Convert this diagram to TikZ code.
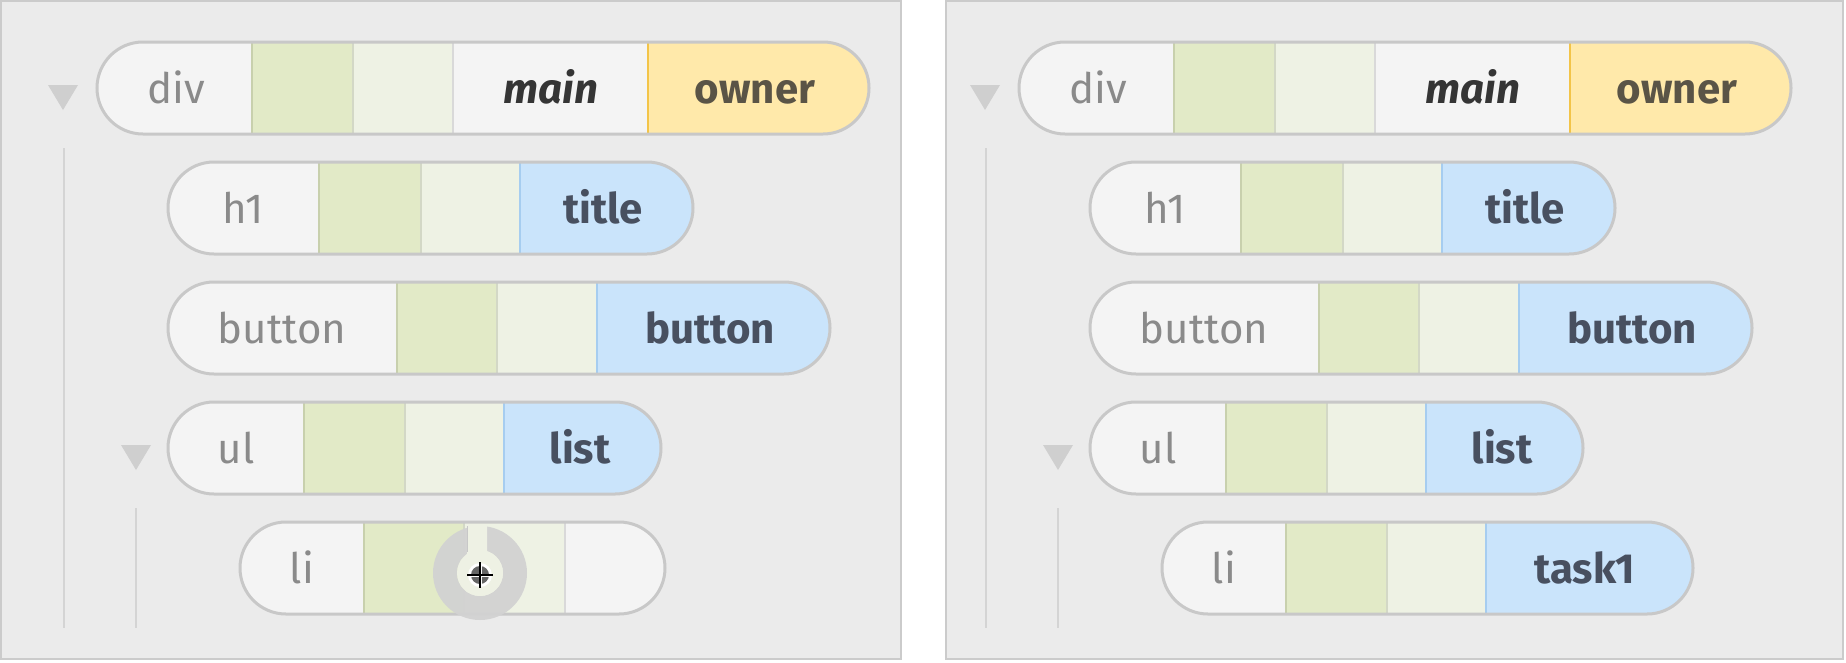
\documentclass[tikz,border=0pt]{standalone}
\usepackage{fontspec}
\setmainfont{Fira Sans}
\definecolor{panelc}{HTML}{EBEBEB}
\definecolor{borderc}{HTML}{CBCBCB}
\definecolor{rimc}{HTML}{C8C8C8}
\definecolor{guidec}{HTML}{D4D4D4}
\definecolor{foldc}{HTML}{CFCFCF}
\definecolor{tagfill}{HTML}{F4F4F4}
\definecolor{greenfill}{HTML}{E2EAC7}
\definecolor{lightfill}{HTML}{EEF2E4}
\definecolor{ownerfill}{HTML}{FFE9AA}
\definecolor{bluefill}{HTML}{CAE4FB}
\definecolor{sepg}{HTML}{C8D0AD}
\definecolor{sepl}{HTML}{D3D8C6}
\definecolor{sepw}{HTML}{D9D9D9}
\definecolor{sepy}{HTML}{F3C448}
\definecolor{sepb}{HTML}{A6CDF0}
\definecolor{tagc}{HTML}{8A8A8A}
\definecolor{namec}{HTML}{485060}
\definecolor{ownerc}{HTML}{5A5446}
\definecolor{mainc}{HTML}{353535}
\definecolor{ringc}{HTML}{D2D2D2}
\definecolor{holec}{HTML}{EEF1E4}
% one pill: #1 row y, #2 left x, #3 right x, #4 sections xa/xb/fill/rule
\newcommand\pillrow[4]{%
  \begin{scope}
    \clip[rounded corners=46pt] (#2,#1-46) rectangle (#3,#1+46);
    \foreach \xa/\xb/\col/\rul in {#4}{
      \fill[\col] (\xa,#1-46) rectangle (\xb,#1+46);
      \draw[\rul,line width=2.5pt] (\xa,#1-46) -- (\xa,#1+46);
    }
  \end{scope}
  \draw[pillrim] (#2,#1-46) rectangle (#3,#1+46);
}
\begin{document}
\begin{tikzpicture}[x=1pt,y=-1pt,
    pillrim/.style={draw=rimc,line width=3pt,rounded corners=46pt},
    guide/.style={draw=guidec,line width=2.5pt},
    tagtext/.style={anchor=base,text=tagc,font=\fontsize{42}{48}\selectfont},
    nametext/.style={anchor=base,text=namec,font=\fontsize{42}{48}\selectfont\bfseries},
    mainname/.style={anchor=base,text=mainc,font=\fontsize{42}{48}\selectfont\bfseries\itshape}]
  \useasboundingbox[fill=white] (0,0) rectangle (1846,662);
  \draw[fill=panelc,draw=borderc,line width=2pt]
    (1,1) rectangle (901,659) (946,1) rectangle (1843,659);
  \foreach \s/\dx in {L/0,R/922}{
    \begin{scope}[xshift=\dx pt]
      \draw[guide] (64,148)--(64,628) (136,508)--(136,628);
      \fill[foldc] (48,85)--(78,85)--(63,110)--cycle;
      \fill[foldc] (121,445)--(151,445)--(136,470)--cycle;
      \pillrow{88}{97}{869}{97/252/tagfill/tagfill,252/353/greenfill/sepg,
        353/453/lightfill/sepl,453/648/tagfill/sepw,648/869/ownerfill/sepy} % <<< div
      \pillrow{208}{168}{693}{168/319/tagfill/tagfill,319/421/greenfill/sepg,
        421/520/lightfill/sepl,520/693/bluefill/sepb} % <<< h1
      \pillrow{328}{168}{830}{168/397/tagfill/tagfill,397/497/greenfill/sepg,
        497/597/lightfill/sepl,597/830/bluefill/sepb} % <<< button
      \pillrow{448}{168}{661}{168/304/tagfill/tagfill,304/405/greenfill/sepg,
        405/504/lightfill/sepl,504/661/bluefill/sepb} % <<< ul
      \node[tagtext] (div\s) at (176,103) {div};
      \node[mainname] (main\s) at (551,103) {main};
      \node[nametext,text=ownerc] (owner\s) at (755,103) {owner};
      \node[tagtext] (h1\s) at (243,223) {h1};
      \node[nametext] (title\s) at (603,223) {title};
      \node[tagtext] (button\s) at (282,343) {button};
      \node[nametext] (btnname\s) at (710,343) {button};
      \node[tagtext] (ul\s) at (236,463) {ul};
      \node[nametext] (list\s) at (580,463) {list};
    \end{scope}
  }
  % <<< li, left: no name yet, cursor on top
  \pillrow{568}{240}{665}{240/364/tagfill/tagfill,364/464/greenfill/sepg,
    464/565/lightfill/sepl,565/665/tagfill/sepw}
  \node[tagtext] (liL) at (302,583) {li};
  \fill[ringc,even odd rule,opacity=.95] (480,573) circle[radius=47pt] (480,573) circle[radius=23pt];
  \fill[holec] (467,524) rectangle (487,560) (480,573) circle[radius=23pt];
  \draw[rimc,line width=1pt] (467,526)--(467,552);
  \fill[white] (480,575) circle[radius=12pt];
  \fill[black!60] (480,575) circle[radius=9pt];
  \draw[white,line width=3pt] (471,575)--(489,575) (480,566)--(480,584);
  \draw[black,line width=1.4pt] (467,575)--(493,575) (480,562)--(480,588);
  % <<< li, right: named task1
  \begin{scope}[xshift=922pt]
    \pillrow{568}{240}{771}{240/364/tagfill/tagfill,364/465/greenfill/sepg,
      465/564/lightfill/sepl,564/771/bluefill/sepb}
    \node[tagtext] (liR) at (302,583) {li};
    \node[nametext] (task) at (663,583) {task1};
  \end{scope}
\end{tikzpicture}
\end{document}
